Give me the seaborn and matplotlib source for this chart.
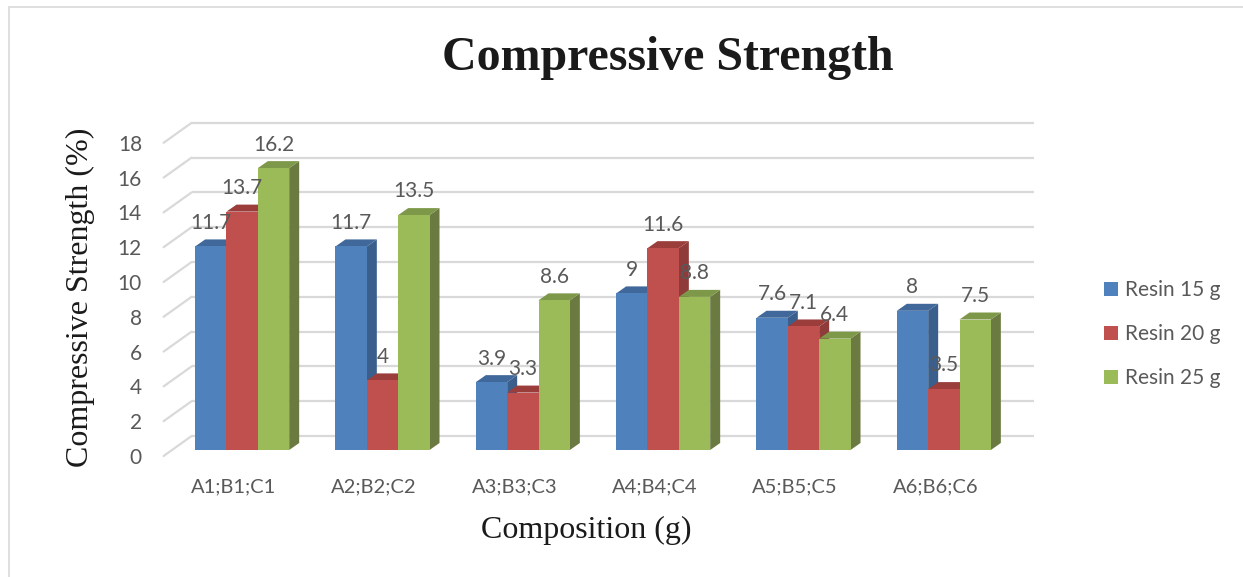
import matplotlib
matplotlib.use("Agg")
import matplotlib.pyplot as plt
from matplotlib.patches import Polygon, Rectangle, Patch
from matplotlib.transforms import ScaledTranslation
import numpy as np
import pandas as pd
import seaborn as sns

# ---- data ----
compositions = ["A1;B1;C1", "A2;B2;C2", "A3;B3;C3", "A4;B4;C4", "A5;B5;C5", "A6;B6;C6"]
series_names = ["Resin 15 g", "Resin 20 g", "Resin 25 g"]
resin_15 = [11.7, 11.7, 3.9, 9, 7.6, 8]
resin_20 = [13.7, 4, 3.3, 11.6, 7.1, 3.5]
resin_25 = [16.2, 13.5, 8.6, 8.8, 6.4, 7.5]
y_ticks = [0, 2, 4, 6, 8, 10, 12, 14, 16, 18]

colors = ["#4F81BD", "#C0504D", "#9BBB59"]
side_colors = ["#3A5F8C", "#8E3B39", "#6B7A40"]
top_colors = ["#41689A", "#9A3D3B", "#7E9849"]

df = pd.DataFrame({
    "Composition": compositions * 3,
    "Strength": resin_15 + resin_20 + resin_25,
    "Resin": [s for s in series_names for _ in compositions],
})

sns.set_theme(style="white")
plt.rcParams["font.family"] = ["Lato", "DejaVu Sans"]

W, H, DPI = 1243, 577, 100
fig = plt.figure(figsize=(W / DPI, H / DPI), dpi=DPI)
fig.patch.set_facecolor("white")

# chart outline
fig.add_artist(Rectangle((9 / W, -0.1), 1.2, (H - 7) / H + 0.1, transform=fig.transFigure,
                         fill=False, edgecolor="#d9d9d9", linewidth=1.2))

# plot area (bar plane): y=0 at pixel 450, 17.4 px per unit
ax = fig.add_axes([172 / W, (H - 450) / H, 842 / W, 18 * 17.4 / H])
sns.barplot(data=df, x="Composition", y="Strength", hue="Resin", palette=colors,
            width=0.67, gap=0, saturation=1, legend=False, ax=ax, errorbar=None,
            linewidth=0)
ax.set_xlim(-0.5, 5.5)
ax.set_ylim(0, 18)
ax.set_axis_off()

def px_offset(dx, dy):
    return ScaledTranslation(dx / DPI, dy / DPI, fig.dpi_scale_trans)

label_gray = "#595959"

# back wall gridlines and side-wall diagonals
back = px_offset(19.6, 14)
for v in y_ticks:
    ax.plot([-0.5, 5.5], [v, v], color="#d9d9d9", lw=1.6, transform=ax.transData + back,
            zorder=0.5, clip_on=False, solid_capstyle="butt")
    p0 = (ax.transData + px_offset(-8.4, -6)).transform((-0.5, v))
    p1 = (ax.transData + back).transform((-0.5, v))
    fig.add_artist(plt.Line2D([p0[0] / W, p1[0] / W], [p0[1] / H, p1[1] / H],
                              color="#d9d9d9", lw=1.6, transform=fig.transFigure, zorder=0.5))
    ax.text(-0.5, v, str(v), transform=ax.transData + px_offset(-30, -8), ha="right",
            va="center", fontsize=15, color=label_gray)

# 3D side and top faces for every bar
o = ax.transData.transform((0, 0))
sx, sy = ax.transData.transform((1, 1)) - o
ddx, ddy = 10 / sx, 7 / sy
n = len(compositions)
for i, p in enumerate(ax.patches):
    k = i // n
    x0, w, h = p.get_x(), p.get_width(), p.get_height()
    z = 2 + x0 / 10
    p.set_zorder(z)
    side = Polygon([(x0 + w, 0), (x0 + w + ddx, ddy), (x0 + w + ddx, h + ddy), (x0 + w, h)],
                   closed=True, facecolor=side_colors[k], edgecolor="none", zorder=z - 0.001)
    top = Polygon([(x0, h), (x0 + w, h), (x0 + w + ddx, h + ddy), (x0 + ddx, h + ddy)],
                  closed=True, facecolor=top_colors[k], edgecolor="none", zorder=z - 0.001)
    ax.add_patch(side)
    ax.add_patch(top)
    ax.annotate(f"{h:g}", xy=(x0 + w / 2, h), xytext=(0, 17), textcoords="offset points",
                ha="center", va="center", fontsize=15, color=label_gray, zorder=10)

# category labels on the front floor edge
for i, c in enumerate(compositions):
    ax.text(i, 0, c, transform=ax.transData + px_offset(-8.4, -37), ha="center", va="center",
            fontsize=14.5, color=label_gray)

# titles
serif = ["Liberation Serif", "DejaVu Serif"]
fig.text(668 / W, (H - 70) / H, "Compressive Strength", ha="center", va="baseline",
         fontsize=34.5, fontweight="bold", family=serif, color="#1a1a1a")
fig.text(586 / W, (H - 530) / H, "Composition (g)", ha="center", va="center",
         fontsize=23, family=serif, color="#1a1a1a")
fig.text(80 / W, (H - 297) / H, "Compressive Strength (%)", ha="center", va="center",
         rotation=90, fontsize=23, family=serif, color="#1a1a1a")

# legend
handles = [Patch(facecolor=c, edgecolor="none") for c in colors]
fig.legend(handles, series_names, loc="center left", bbox_to_anchor=(1094 / W, (H - 334) / H),
           frameon=False, fontsize=15, labelcolor=label_gray, borderpad=0,
           handlelength=0.67, handleheight=0.67, handletextpad=0.3, labelspacing=1.15)

fig.savefig("out.png", dpi=DPI)
